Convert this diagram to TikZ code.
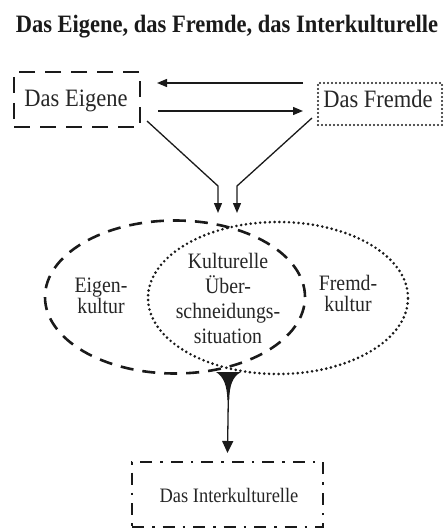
\documentclass[tikz,border=0pt]{standalone}
\usepackage{fontspec}
\setmainfont[FakeStretch=0.9]{Liberation Serif}
\usetikzlibrary{shapes.geometric,arrows.meta}
\definecolor{ink}{HTML}{1A1A1A}
\definecolor{txt}{HTML}{262626}
\begin{document}
\begin{tikzpicture}[x=1pt,y=-1pt,
  dashbox/.style={draw=ink, line width=2.8pt, dash pattern=on 16pt off 10pt, minimum width=126pt, minimum height=55pt, inner sep=0pt},
  dotbox/.style={draw=ink, line width=2.4pt, line cap=round, dash pattern=on 0pt off 4pt, minimum width=124pt, minimum height=42pt, inner sep=0pt},
  dashdotbox/.style={draw=ink, line width=2.6pt, dash pattern=on 12pt off 8pt on 2.5pt off 8pt, minimum width=191pt, minimum height=65pt, inner sep=0pt},
  dashell/.style={ellipse, draw=ink, line width=2.6pt, dash pattern=on 13pt off 9pt, minimum width=260pt, minimum height=153pt, inner sep=0pt},
  dotell/.style={ellipse, draw=ink, line width=2.9pt, line cap=round, dash pattern=on 0pt off 4.8pt, minimum width=260pt, minimum height=152pt, inner sep=0pt},
  boxtext/.style={font=\fontsize{25}{28}\selectfont, text=txt},
  elltext/.style={font=\fontsize{22}{21}\selectfont, text=txt, align=center, anchor=base},
  arr/.style={draw=ink, line width=1.3pt, -{Triangle[length=10pt,width=8pt]}},
  arrt/.style={draw=ink, line width=1.3pt, -{Triangle[length=12pt,width=11pt]}}
]
\useasboundingbox (0,0) rectangle (445,529);

\node[anchor=base, text=ink, font=\bfseries\fontsize{25}{28}\selectfont] (title) at (227,33) {Das Eigene, das Fremde, das Interkulturelle};

\node[dashbox] (eig) at (77,99.5) {};
\node[boxtext, anchor=base] (eigt) at (76,107) {Das Eigene};
\node[dotbox] (fre) at (380,104) {};
\node[boxtext, anchor=base] (fret) at (378,108) {Das Fremde};

\coordinate (a1s) at (303,83);
\coordinate (a1e) at (157,83);
\coordinate (a2s) at (158,111);
\coordinate (a2e) at (303,111);
\draw[arr] (a1s) -- (a1e);
\draw[arr] (a2s) -- (a2e);

\node[dashell] (ell1) at (175,297) {};
\node[dotell] (ell2) at (278,298) {};

\coordinate (l0) at (147,121);
\coordinate (l1) at (218,186);
\coordinate (l2) at (218,213);
\coordinate (r0) at (312,118);
\coordinate (r1) at (237,186);
\coordinate (r2) at (237,213);
\draw[arr] (l0) -- (l1) -- (l2);
\draw[arr] (r0) -- (r1) -- (r2);

\node[elltext] (eigk) at (101,313) {Eigen-\\kultur};
\node[elltext] (frek) at (348,311) {Fremd-\\kultur};
\node[elltext, font=\fontsize{22}{25}\selectfont] (ueb) at (228,343) {Kulturelle\\Über-\\schneidungs-\\situation};

\node[dashdotbox] (inter) at (227.5,494.5) {};
\node[anchor=base, text=txt, font=\fontsize{20.5}{24}\selectfont] (intert) at (229,502) {Das Interkulturelle};

\coordinate (split) at (228.3,398);
\fill[ink] (216,372) -- (241,372) .. controls (232,377) and (229.6,386) .. (229.2,400) -- (227.4,400) .. controls (227,386) and (224,377) .. (216,372) -- cycle;
\draw[arrt] (split) -- (inter.north |- 0,453);
\end{tikzpicture}
\end{document}
